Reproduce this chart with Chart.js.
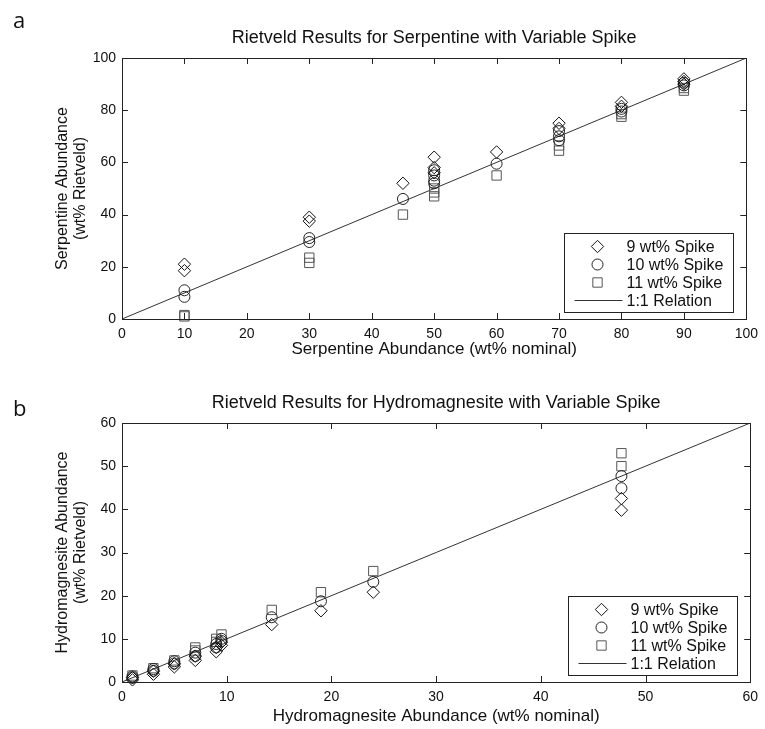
<!DOCTYPE html>
<html>
<head>
<meta charset="utf-8">
<script src="https://cdn.jsdelivr.net/npm/chart.js@4.4.1/dist/chart.umd.min.js"></script>
<style>
body { margin: 0; background: #fff; }
#wrap { position: relative; width: 765px; height: 729px; }
.panel { position: absolute; left: 0; width: 765px; }
.tag { position: absolute; font-family: "Open Sans", sans-serif; font-size: 22px; color: #111; line-height: 1; }
</style>
</head>
<body>
<div id="wrap">
  <div class="panel" style="top:0;height:360px"><canvas id="serp"></canvas></div>
  <div class="panel" style="top:360px;height:369px"><canvas id="hydro"></canvas></div>
  <div class="tag" style="left:13px;top:8px">a</div>
  <div class="tag" style="left:13px;top:396px">b</div>
</div>
<script>
// Panel a - serpentine (wt% nominal vs wt% Rietveld)
var serpX9  = [10, 10, 30, 30, 45, 50, 50, 50, 60, 70, 70, 80, 80, 90, 90, 90];
var serpY9  = [21, 18.5, 39, 37.5, 52, 62, 58, 56, 64, 75, 73, 83, 81.5, 92, 91, 90];
var serpX10 = [10, 10, 30, 30, 45, 50, 50, 50, 50, 60, 70, 70, 70, 80, 80, 90, 90];
var serpY10 = [11, 8.5, 31, 29.5, 46, 57, 55, 53, 52, 59.5, 72, 70, 68.5, 80.5, 79.5, 90.5, 89.5];
var serpX11 = [10, 10, 30, 30, 45, 50, 50, 50, 60, 70, 70, 80, 80, 90, 90];
var serpY11 = [1.5, 1, 23.5, 21.5, 40, 50, 48.5, 47, 55, 66.5, 64.5, 78.5, 77.5, 88.5, 87.5];
var serpLine = [0, 100];

// Panel b - hydromagnesite
var hydX9  = [1, 1, 3, 3, 5, 5, 7, 7, 9, 9, 9.5, 9.5, 14.3, 19, 24, 47.7, 47.7];
var hydY9  = [0.5, 1, 1.8, 2.5, 3.5, 4.2, 5, 6, 7, 8, 8.5, 9.2, 13.3, 16.5, 20.8, 42.5, 39.8];
var hydX10 = [1, 1, 3, 3, 5, 5, 7, 7, 9, 9, 9.5, 9.5, 14.3, 19, 24, 47.7, 47.7];
var hydY10 = [1, 1.3, 2.6, 3, 4.3, 4.8, 6, 6.8, 8, 8.8, 9.5, 10, 15, 18.7, 23.2, 47.7, 44.9];
var hydX11 = [1, 3, 5, 7, 7, 9, 9, 9.5, 14.3, 19, 24, 47.7, 47.7];
var hydY11 = [1.5, 3.2, 5, 7.3, 8, 9.3, 10, 11, 16.7, 20.8, 25.7, 53, 50];
var hydLine = [0, 60];

var seriesLabels = ['9 wt% Spike', '10 wt% Spike', '11 wt% Spike', '1:1 Relation'];

Chart.defaults.font.family = '"Liberation Sans", Arial, sans-serif';
Chart.defaults.color = '#111';

function pts(xs, ys) {
    return xs.map(function (x, i) { return { x: x, y: ys[i] }; });
}

// centre the title over the plot area, not the whole canvas
var titleOverPlot = {
    id: 'titleOverPlot',
    afterLayout: function (chart) {
        if (chart.titleBlock) {
            chart.titleBlock.left = chart.chartArea.left;
            chart.titleBlock.right = chart.chartArea.right;
        }
    }
};

// box round the plot with inward ticks on all four sides
var boxTicks = {
    id: 'boxTicks',
    afterDatasetsDraw: function (chart) {
        var ctx = chart.ctx, a = chart.chartArea;
        var xs = chart.scales.x, ys = chart.scales.y;
        ctx.save();
        ctx.strokeStyle = '#222';
        ctx.lineWidth = 1;
        ctx.beginPath();
        xs.ticks.forEach(function (t) {
            var px = Math.round(xs.getPixelForValue(t.value)) + 0.5;
            ctx.moveTo(px, a.bottom); ctx.lineTo(px, a.bottom - 6);
            ctx.moveTo(px, a.top); ctx.lineTo(px, a.top + 6);
        });
        ys.ticks.forEach(function (t) {
            var py = Math.round(ys.getPixelForValue(t.value)) + 0.5;
            ctx.moveTo(a.left, py); ctx.lineTo(a.left + 6, py);
            ctx.moveTo(a.right, py); ctx.lineTo(a.right - 6, py);
        });
        ctx.stroke();
        ctx.strokeRect(Math.round(a.left) + 0.5, Math.round(a.top) + 0.5,
            Math.round(a.right - a.left), Math.round(a.bottom - a.top));
        ctx.restore();
    }
};

function drawMarker(ctx, style, x, y, r) {
    ctx.beginPath();
    if (style === 'rectRot') {
        ctx.moveTo(x, y - r); ctx.lineTo(x + r, y); ctx.lineTo(x, y + r); ctx.lineTo(x - r, y);
        ctx.closePath();
    } else if (style === 'circle') {
        ctx.arc(x, y, r, 0, Math.PI * 2);
    } else {
        var s = r * Math.SQRT1_2;
        ctx.rect(x - s, y - s, 2 * s, 2 * s);
    }
    ctx.stroke();
}

// legend box in the lower right corner of the plot
var boxLegend = {
    id: 'boxLegend',
    afterDraw: function (chart) {
        var ctx = chart.ctx, a = chart.chartArea;
        var w = 169, h = 79;
        var left = Math.round(a.right - 13 - w) + 0.5;
        var top = Math.round(a.bottom - 7 - h) + 0.5;
        ctx.save();
        ctx.fillStyle = '#fff';
        ctx.fillRect(left, top, w, h);
        ctx.strokeStyle = '#222';
        ctx.lineWidth = 1;
        ctx.strokeRect(left, top, w, h);
        ctx.font = '16px "Liberation Sans", Arial, sans-serif';
        ctx.textBaseline = 'middle';
        ctx.textAlign = 'left';
        chart.data.datasets.forEach(function (ds, i) {
            var y = top + 13 + i * 18;
            ctx.strokeStyle = ds.borderColor;
            ctx.lineWidth = 1;
            if (ds.showLine) {
                ctx.beginPath();
                ctx.moveTo(left + 10, y); ctx.lineTo(left + 58, y);
                ctx.stroke();
            } else {
                drawMarker(ctx, ds.pointStyle, left + 33, y, ds.pointRadius);
            }
            ctx.fillStyle = '#111';
            ctx.fillText(ds.label, left + 62, y + 1);
        });
        ctx.restore();
    }
};

function makeChart(id, cfg) {
    var common = { showLine: false, clip: false, borderWidth: 1, backgroundColor: 'rgba(0,0,0,0)' };
    var datasets = [
        Object.assign({ label: seriesLabels[0], data: pts(cfg.x9, cfg.y9), pointStyle: 'rectRot', pointRadius: 6.2, borderColor: '#111' }, common),
        Object.assign({ label: seriesLabels[1], data: pts(cfg.x10, cfg.y10), pointStyle: 'circle', pointRadius: 5.5, borderColor: '#222' }, common),
        Object.assign({ label: seriesLabels[2], data: pts(cfg.x11, cfg.y11), pointStyle: 'rect', pointRadius: 6.6, borderColor: '#555' }, common),
        { label: seriesLabels[3], data: pts(cfg.line, cfg.line), showLine: true, pointRadius: 0, borderColor: '#333', borderWidth: 1 }
    ];
    return new Chart(document.getElementById(id), {
        type: 'scatter',
        data: { datasets: datasets },
        plugins: [titleOverPlot, boxTicks, boxLegend],
        options: {
            responsive: true,
            maintainAspectRatio: false,
            animation: false,
            events: [],
            layout: { padding: { left: 0, right: 765 - 751, top: 0, bottom: 0 } },
            plugins: {
                legend: { display: false },
                tooltip: { enabled: false },
                title: {
                    display: true,
                    text: cfg.title,
                    color: '#111',
                    font: { size: 18, weight: 'normal' },
                    padding: { top: cfg.titleTop, bottom: cfg.titleBottom }
                }
            },
            scales: {
                x: {
                    type: 'linear', min: 0, max: cfg.max,
                    ticks: { stepSize: cfg.xStep, padding: 7, color: '#111', font: { size: 14 } },
                    grid: { display: false, drawTicks: false },
                    border: { display: false },
                    title: { display: true, text: cfg.xTitle, color: '#111', font: { size: 17 }, padding: { top: 0, bottom: cfg.xTitlePad } },
                    afterFit: function (s) { s.height = cfg.xHeight; }
                },
                y: {
                    type: 'linear', min: 0, max: cfg.max,
                    ticks: { stepSize: cfg.yStep, padding: 6, color: '#111', font: { size: 14 } },
                    grid: { display: false, drawTicks: false },
                    border: { display: false },
                    title: { display: true, text: cfg.yTitle, color: '#111', font: { size: 16, lineHeight: 1.1 }, padding: { top: 54, bottom: 0 } },
                    afterFit: function (s) { s.width = 122; }
                }
            }
        }
    });
}

makeChart('serp', {
    title: 'Rietveld Results for Serpentine with Variable Spike',
    x9: serpX9, y9: serpY9, x10: serpX10, y10: serpY10, x11: serpX11, y11: serpY11, line: serpLine,
    max: 100, xStep: 10, yStep: 20,
    xTitle: 'Serpentine Abundance (wt% nominal)',
    yTitle: ['Serpentine Abundance', '(wt% Rietveld)'],
    titleTop: 27, titleBottom: 9.4, xHeight: 41, xTitlePad: 0
});

makeChart('hydro', {
    title: 'Rietveld Results for Hydromagnesite with Variable Spike',
    x9: hydX9, y9: hydY9, x10: hydX10, y10: hydY10, x11: hydX11, y11: hydY11, line: hydLine,
    max: 60, xStep: 10, yStep: 10,
    xTitle: 'Hydromagnesite Abundance (wt% nominal)',
    yTitle: ['Hydromagnesite Abundance', '(wt% Rietveld)'],
    titleTop: 32, titleBottom: 9.4, xHeight: 47, xTitlePad: 2
});
</script>
</body>
</html>
